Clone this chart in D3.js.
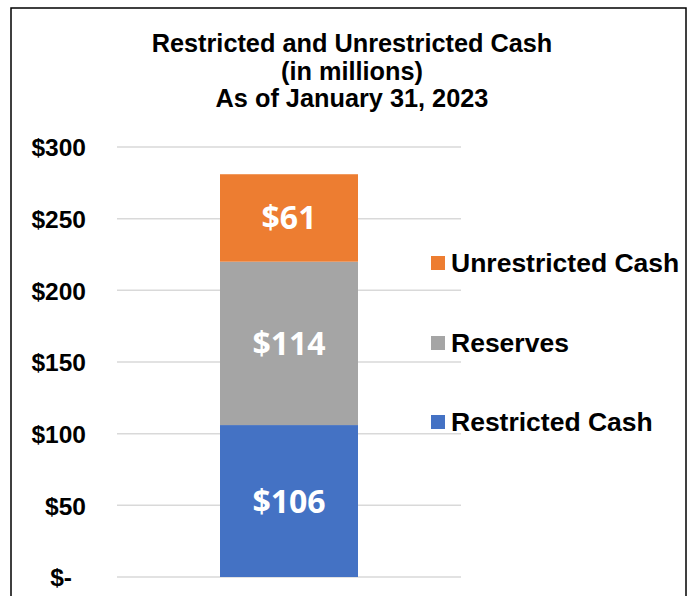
<!DOCTYPE html>
<html><head><meta charset="utf-8">
<script src="https://cdn.jsdelivr.net/npm/d3@7"></script>
<style>html,body{margin:0;padding:0;background:#fff;}svg{display:block;}</style>
</head><body>
<script>
const categories = ["As of January 31, 2023"];
const seriesNames = ["Restricted Cash", "Reserves", "Unrestricted Cash"];
const seriesValues = [[106], [114], [61]];
const seriesColors = ["#4472C4", "#A5A5A5", "#ED7D31"];
const yTicks = [0, 50, 100, 150, 200, 250, 300];
const titleLines = ["Restricted and Unrestricted Cash", "(in millions)", "As of January 31, 2023"];

const W = 692, H = 596;
const svg = d3.select("body").append("svg").attr("width", W).attr("height", H);
svg.append("rect").attr("x", 11).attr("y", 8).attr("width", 675).attr("height", 600)
  .attr("fill", "#fff").attr("stroke", "#000").attr("stroke-width", 1.5);

const title = svg.append("text").attr("text-anchor", "middle")
  .attr("font-family", "Liberation Sans, Arial, sans-serif").attr("font-weight", "bold")
  .attr("font-size", 25.3).attr("fill", "#000");
titleLines.forEach((t, i) => title.append("tspan").attr("x", 352).attr("y", 52 + i * 27.5).text(t));

const y = d3.scaleLinear().domain([0, 300]).range([577, 147]);
const x = d3.scaleBand().domain(categories).range([117, 461]).paddingInner(0).paddingOuter(0.3);

const yAxis = d3.axisLeft(y).tickValues(yTicks).tickSize(0).tickPadding(0)
  .tickFormat(d => d === 0 ? "$-" : "$" + d);
const gy = svg.append("g").attr("transform", "translate(86,0)").call(yAxis);
gy.select(".domain").remove();
gy.selectAll("text").attr("font-family", "Liberation Sans, Arial, sans-serif")
  .attr("font-weight", "bold").attr("font-size", 24.5).attr("fill", "#000").attr("dy", "0.36em");
gy.selectAll("text").filter(d => d === 0).attr("dx", -14);

svg.append("g").selectAll("line").data(yTicks).join("line")
  .attr("x1", 117).attr("x2", 461).attr("y1", d => y(d)).attr("y2", d => y(d))
  .attr("stroke", "#D9D9D9").attr("stroke-width", 1.5);

const stacked = d3.stack().keys(d3.range(seriesNames.length))
  .value((d, k) => seriesValues[k][d])(categories.map((c, i) => i));

const bw = 138;
stacked.forEach((layer, k) => {
  layer.forEach((seg, i) => {
    const cx = x(categories[i]) + x.bandwidth() / 2;
    svg.append("rect").attr("x", cx - bw / 2).attr("width", bw)
      .attr("y", y(seg[1])).attr("height", y(seg[0]) - y(seg[1]))
      .attr("fill", seriesColors[k]);
    svg.append("text").attr("x", cx).attr("y", (y(seg[0]) + y(seg[1])) / 2)
      .attr("dy", "0.36em").attr("text-anchor", "middle")
      .attr("font-family", "Open Sans, Lato, sans-serif").attr("font-weight", "bold")
      .attr("font-size", 32).attr("fill", "#fff").text("$" + seriesValues[k][i]);
  });
});

const legendY = [422, 343, 263];
const lg = svg.append("g");
seriesNames.forEach((n, k) => {
  lg.append("rect").attr("x", 431).attr("y", legendY[k] - 7).attr("width", 14).attr("height", 14)
    .attr("fill", seriesColors[k]);
  lg.append("text").attr("x", 451).attr("y", legendY[k] + 9)
    .attr("font-family", "Liberation Sans, Arial, sans-serif").attr("font-weight", "bold")
    .attr("font-size", 26.5).attr("fill", "#000").text(n);
});
</script>
</body></html>
